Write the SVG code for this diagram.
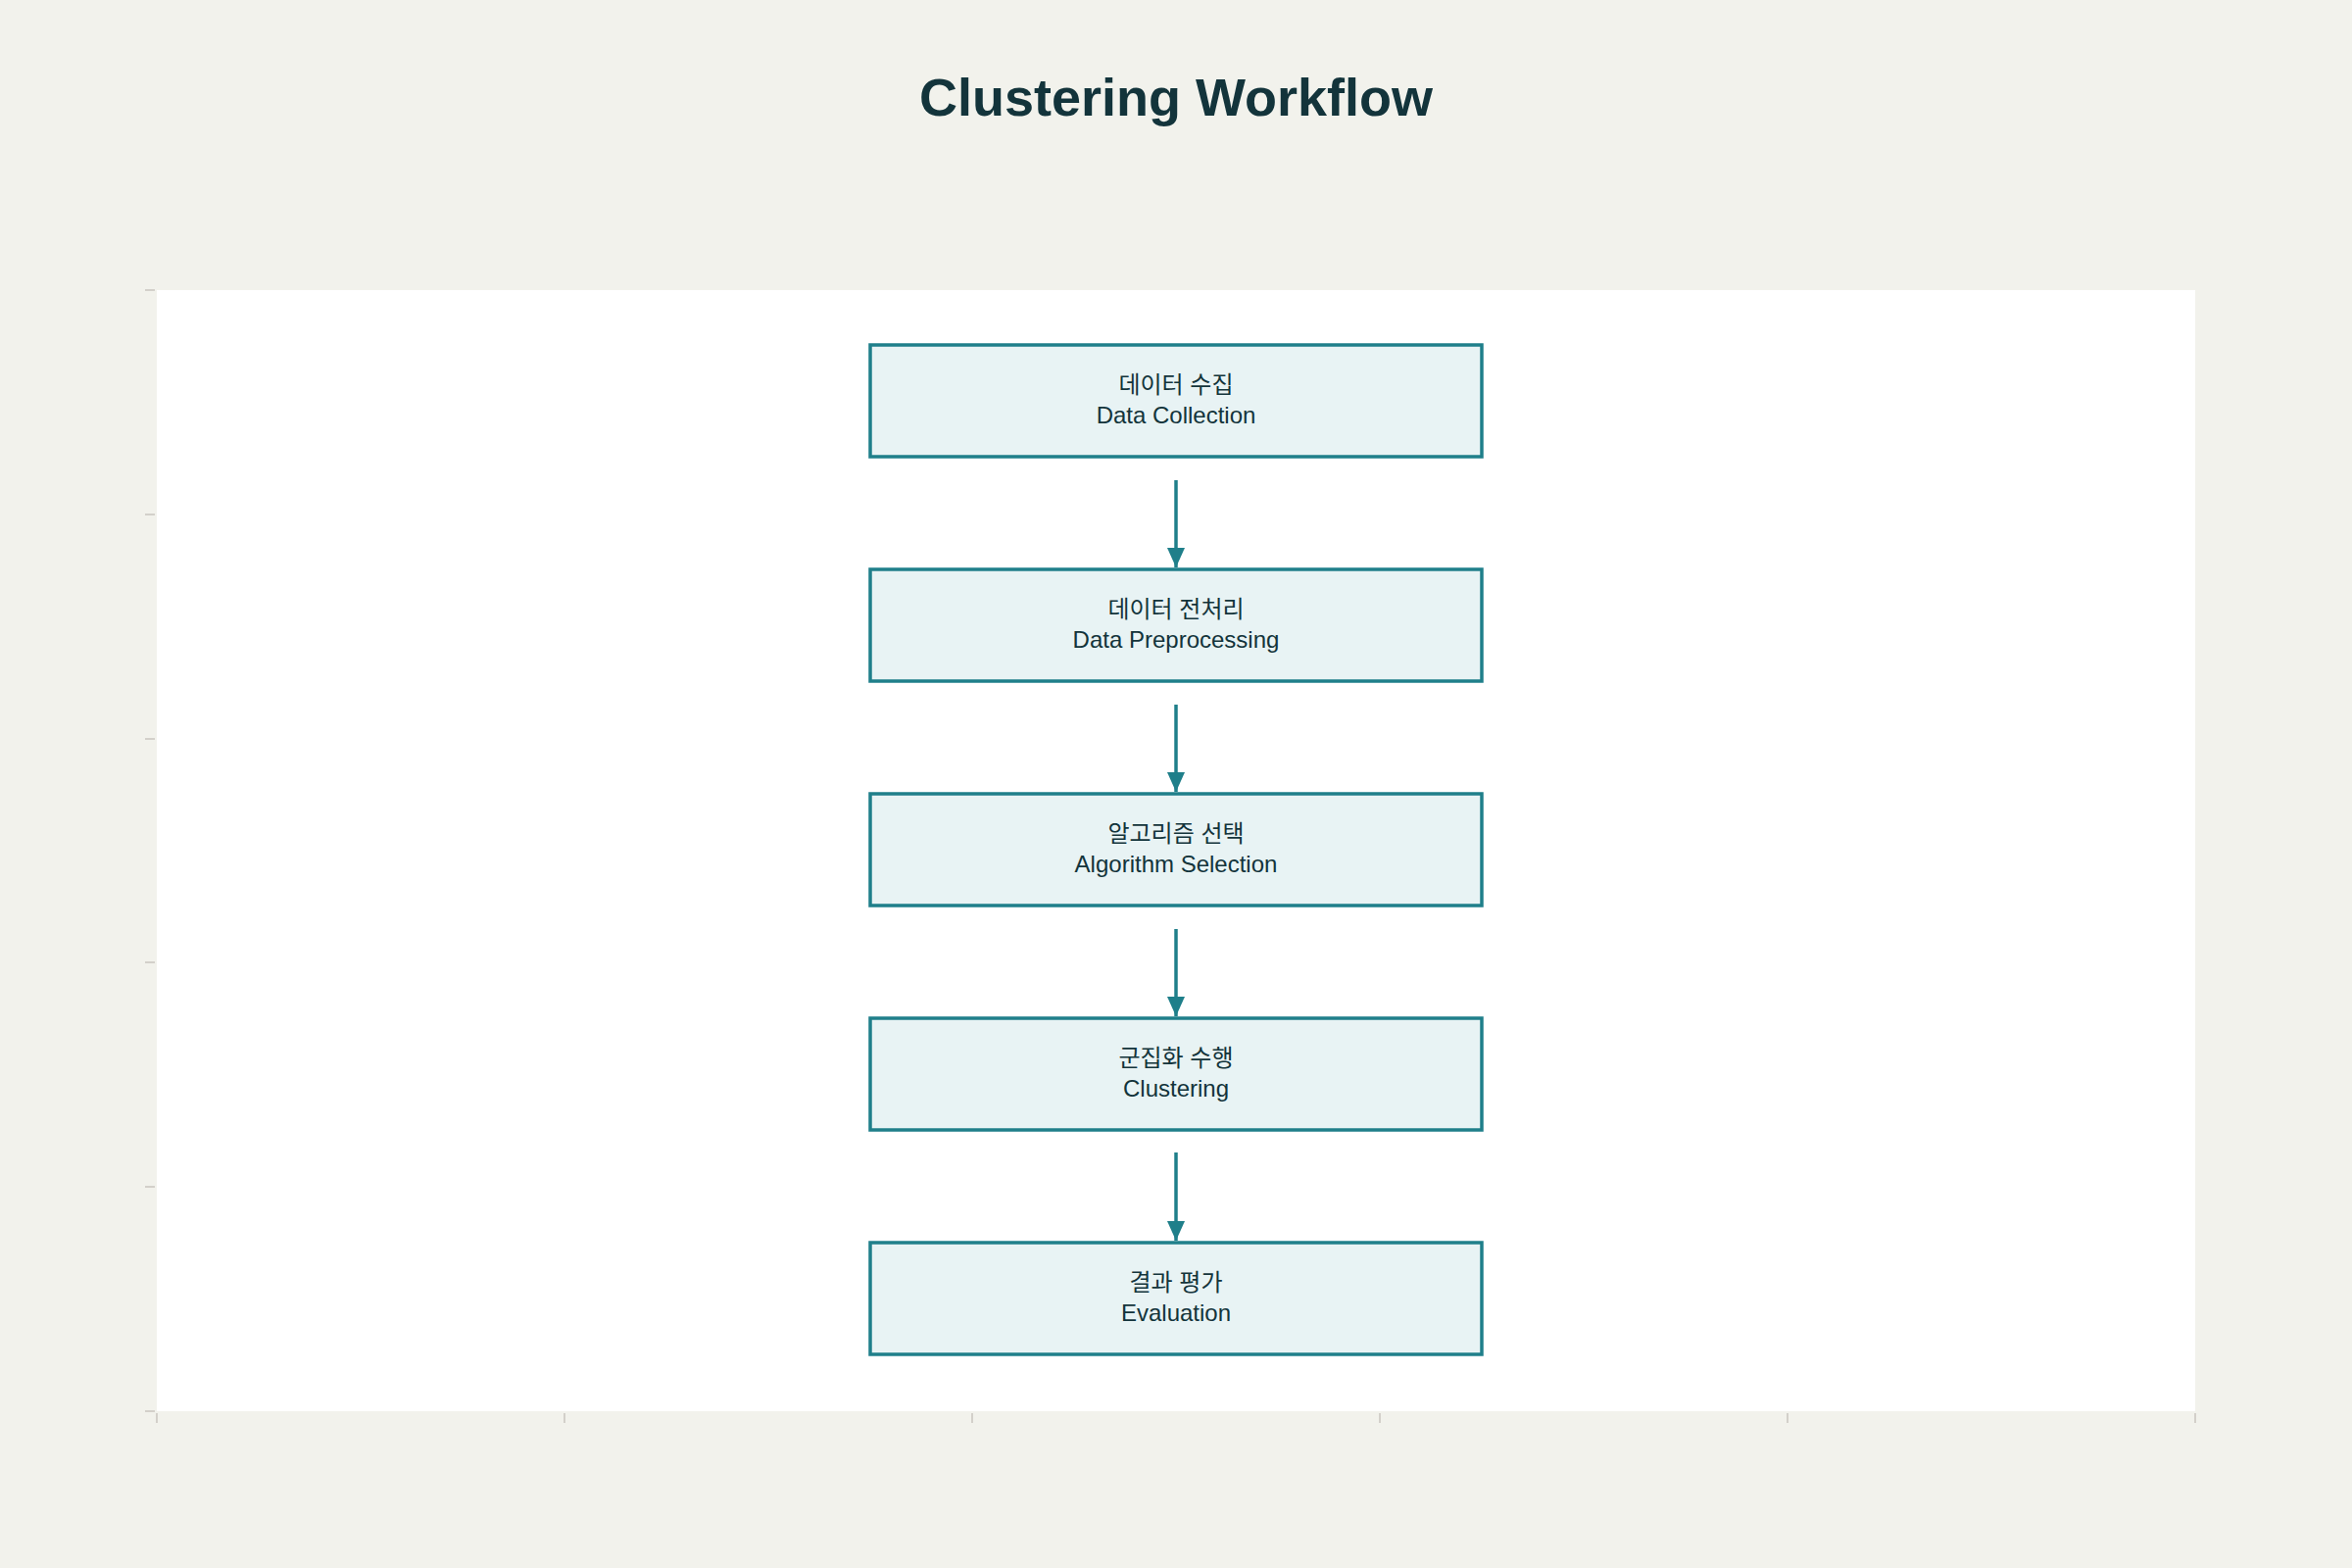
<svg xmlns="http://www.w3.org/2000/svg" width="2400" height="1600" viewBox="0 0 2400 1600">
<defs>
<style>
.bg{fill:#f2f2ec}
.plot{fill:#ffffff}
.tick{stroke:#d3d0ca;stroke-width:2}
.title{font-family:"Liberation Sans",Arial,sans-serif;font-weight:bold;font-size:54px;fill:#13343b;text-anchor:middle}
.box{fill:#e8f3f4;stroke:#1f7f8a;stroke-width:3.5}
.lbl{font-family:"Liberation Sans","Noto Sans CJK KR",sans-serif;font-size:24px;fill:#13343b;text-anchor:middle}
.edge{stroke:#1f7f8a;stroke-width:3.5;fill:none}
</style>
<marker id="ah" viewBox="0 0 20 18" refX="20" refY="9" markerWidth="20" markerHeight="18" markerUnits="userSpaceOnUse" orient="auto">
<path d="M0,0 L20,9 L0,18 Z" fill="#1f7f8a"/>
</marker>
</defs>
<rect class="bg" x="0" y="0" width="2400" height="1600"/>
<rect class="plot" x="160" y="296" width="2080" height="1144"/>
<g id="ticks">
<line class="tick" x1="148" y1="296" x2="158" y2="296"/>
<line class="tick" x1="148" y1="525" x2="158" y2="525"/>
<line class="tick" x1="148" y1="754" x2="158" y2="754"/>
<line class="tick" x1="148" y1="982" x2="158" y2="982"/>
<line class="tick" x1="148" y1="1211" x2="158" y2="1211"/>
<line class="tick" x1="148" y1="1440" x2="158" y2="1440"/>
<line class="tick" x1="160" y1="1442" x2="160" y2="1452"/>
<line class="tick" x1="576" y1="1442" x2="576" y2="1452"/>
<line class="tick" x1="992" y1="1442" x2="992" y2="1452"/>
<line class="tick" x1="1408" y1="1442" x2="1408" y2="1452"/>
<line class="tick" x1="1824" y1="1442" x2="1824" y2="1452"/>
<line class="tick" x1="2240" y1="1442" x2="2240" y2="1452"/>
</g>
<text class="title" x="1200" y="118">Clustering Workflow</text>
<g id="connectors">
<line class="edge" x1="1200" y1="490" x2="1200" y2="579" marker-end="url(#ah)"/>
<line class="edge" x1="1200" y1="719" x2="1200" y2="808" marker-end="url(#ah)"/>
<line class="edge" x1="1200" y1="948" x2="1200" y2="1037" marker-end="url(#ah)"/>
<line class="edge" x1="1200" y1="1176" x2="1200" y2="1266" marker-end="url(#ah)"/>
</g>
<g id="n1">
<rect class="box" x="888" y="352" width="624" height="114"/>
<text class="lbl" x="1200" y="401">데이터 수집</text>
<text class="lbl" x="1200" y="432">Data Collection</text>
</g>
<g id="n2">
<rect class="box" x="888" y="581" width="624" height="114"/>
<text class="lbl" x="1200" y="630">데이터 전처리</text>
<text class="lbl" x="1200" y="661">Data Preprocessing</text>
</g>
<g id="n3">
<rect class="box" x="888" y="810" width="624" height="114"/>
<text class="lbl" x="1200" y="859">알고리즘 선택</text>
<text class="lbl" x="1200" y="890">Algorithm Selection</text>
</g>
<g id="n4">
<rect class="box" x="888" y="1039" width="624" height="114"/>
<text class="lbl" x="1200" y="1088">군집화 수행</text>
<text class="lbl" x="1200" y="1119">Clustering</text>
</g>
<g id="n5">
<rect class="box" x="888" y="1268" width="624" height="114"/>
<text class="lbl" x="1200" y="1317">결과 평가</text>
<text class="lbl" x="1200" y="1348">Evaluation</text>
</g>
</svg>
